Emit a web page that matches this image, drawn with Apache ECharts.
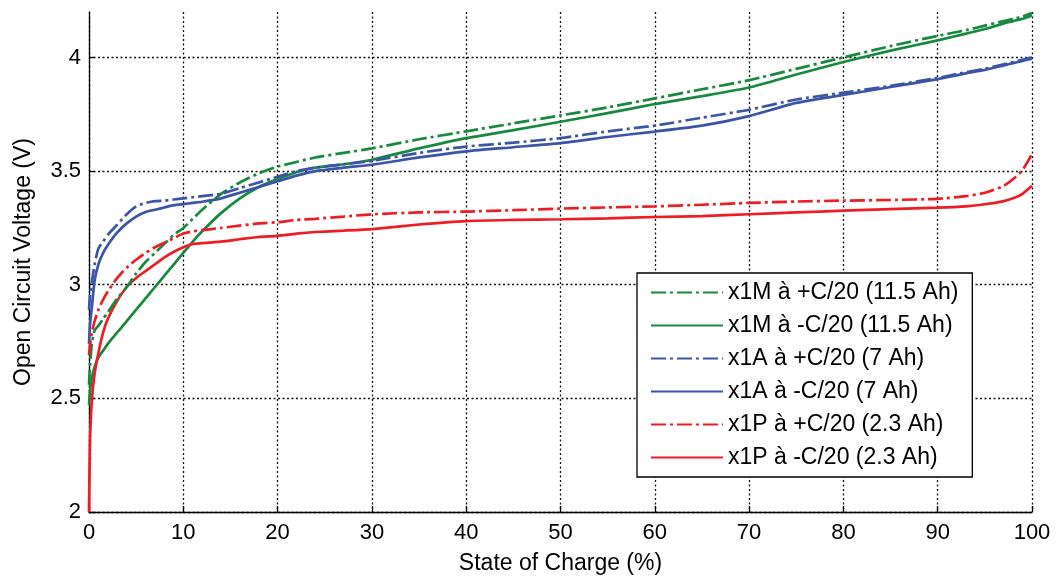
<!DOCTYPE html>
<html>
<head>
<meta charset="utf-8">
<script src="https://cdn.jsdelivr.net/npm/echarts@6/dist/echarts.min.js"></script>
<style>
html,body{margin:0;padding:0;background:#fff;}
#chart{width:1056px;height:580px;}
</style>
</head>
<body>
<div id="chart"></div>
<script>
// State of charge (%) sample points shared by all curves
const soc = [0, 0.1, 0.3, 0.6, 1, 1.5, 2, 3, 4, 5, 6, 7, 8, 9, 10, 11, 12, 14, 16, 18, 20, 22, 24, 27, 30, 35, 40, 45, 50, 55, 60, 65, 70, 75, 80, 85, 90, 93, 95, 97, 98, 99, 100];

// Open circuit voltage (V)
const x1M_charge = [2.56, 2.64, 2.74, 2.80, 2.82, 2.85, 2.88, 2.94, 2.99, 3.05, 3.10, 3.14, 3.18, 3.22, 3.25, 3.29, 3.33, 3.40, 3.45, 3.49, 3.52, 3.54, 3.56, 3.58, 3.60, 3.64, 3.675, 3.71, 3.745, 3.78, 3.82, 3.86, 3.90, 3.95, 4.00, 4.05, 4.095, 4.12, 4.14, 4.16, 4.17, 4.18, 4.195];
const x1M_discharge = [2.47, 2.53, 2.59, 2.64, 2.68, 2.71, 2.74, 2.79, 2.84, 2.89, 2.94, 2.99, 3.04, 3.09, 3.14, 3.19, 3.235, 3.315, 3.38, 3.43, 3.465, 3.495, 3.515, 3.53, 3.55, 3.60, 3.645, 3.68, 3.717, 3.755, 3.795, 3.83, 3.868, 3.925, 3.98, 4.03, 4.075, 4.105, 4.125, 4.15, 4.16, 4.17, 4.185];
const x1A_charge = [2.89, 2.95, 3.01, 3.09, 3.16, 3.19, 3.22, 3.265, 3.31, 3.345, 3.36, 3.368, 3.37, 3.375, 3.38, 3.385, 3.39, 3.40, 3.425, 3.45, 3.475, 3.50, 3.515, 3.53, 3.545, 3.58, 3.608, 3.625, 3.645, 3.675, 3.70, 3.735, 3.77, 3.815, 3.845, 3.875, 3.91, 3.935, 3.95, 3.97, 3.98, 3.99, 4.0];
const x1A_discharge = [2.74, 2.82, 2.90, 3.02, 3.09, 3.14, 3.175, 3.23, 3.27, 3.30, 3.32, 3.33, 3.34, 3.35, 3.355, 3.36, 3.365, 3.38, 3.405, 3.43, 3.455, 3.48, 3.50, 3.515, 3.528, 3.56, 3.587, 3.605, 3.623, 3.65, 3.674, 3.70, 3.742, 3.80, 3.835, 3.87, 3.905, 3.93, 3.945, 3.965, 3.975, 3.985, 3.995];
const x1P_charge = [2.69, 2.73, 2.79, 2.84, 2.89, 2.935, 2.97, 3.03, 3.075, 3.11, 3.14, 3.165, 3.185, 3.205, 3.225, 3.235, 3.24, 3.25, 3.26, 3.27, 3.275, 3.285, 3.29, 3.30, 3.31, 3.318, 3.322, 3.328, 3.335, 3.34, 3.345, 3.352, 3.36, 3.366, 3.37, 3.373, 3.378, 3.39, 3.405, 3.435, 3.465, 3.505, 3.575];
const x1P_discharge = [2.0, 2.3, 2.49, 2.61, 2.70, 2.79, 2.85, 2.93, 2.99, 3.03, 3.06, 3.09, 3.12, 3.145, 3.165, 3.18, 3.183, 3.19, 3.20, 3.21, 3.215, 3.225, 3.232, 3.238, 3.245, 3.265, 3.28, 3.285, 3.288, 3.292, 3.298, 3.302, 3.31, 3.318, 3.326, 3.333, 3.339, 3.345, 3.354, 3.368, 3.38, 3.40, 3.435];

const seriesNames = ['x1M à +C/20 (11.5 Ah)', 'x1M à -C/20 (11.5 Ah)', 'x1A à +C/20 (7 Ah)', 'x1A à -C/20 (7 Ah)', 'x1P à +C/20 (2.3 Ah)', 'x1P à -C/20 (2.3 Ah)'];
const seriesValues = [x1M_charge, x1M_discharge, x1A_charge, x1A_discharge, x1P_charge, x1P_discharge];
const seriesColors = ['#17893f', '#17893f', '#3b55a6', '#3b55a6', '#ee1d25', '#ee1d25'];
const dashed = [true, false, true, false, true, false];

const FONT = "'Liberation Sans', Arial, sans-serif";
const chart = echarts.init(document.getElementById('chart'), null, {renderer: 'canvas'});

const series = seriesNames.map((name, i) => ({
  name: name,
  type: 'line',
  data: soc.map((s, j) => [s, seriesValues[i][j]]),
  symbol: 'none',
  smooth: 0.2,
  clip: true,
  lineStyle: {color: seriesColors[i], width: 2.7, type: dashed[i] ? [15, 4, 3, 4] : 'solid'},
  itemStyle: {color: seriesColors[i]},
  z: dashed[i] ? 3 : 2
}));

chart.setOption({
  animation: false,
  backgroundColor: '#fff',
  grid: {left: 89, right: 24, top: 12, bottom: 65, containLabel: false},
  xAxis: {
    type: 'value', min: 0, max: 100, interval: 10,
    name: 'State of Charge (%)', nameLocation: 'middle', nameGap: 40,
    nameTextStyle: {fontFamily: FONT, fontSize: 23, color: '#000'},
    axisLine: {show: true, lineStyle: {color: '#000', width: 1.3}},
    axisTick: {show: true, inside: true, length: 6, lineStyle: {color: '#000', width: 1.3}},
    axisLabel: {fontFamily: FONT, fontSize: 22, color: '#000', margin: 10},
    splitLine: {show: true, lineStyle: {color: '#111', width: 1.3, type: [2, 2.5]}}
  },
  yAxis: {
    type: 'value', min: 2, max: 4.2, interval: 0.5,
    name: 'Open Circuit Voltage (V)', nameLocation: 'middle', nameGap: 54,
    nameTextStyle: {fontFamily: FONT, fontSize: 23, color: '#000'},
    axisLine: {show: true, lineStyle: {color: '#000', width: 1.3}},
    axisTick: {show: true, inside: true, length: 6, lineStyle: {color: '#000', width: 1.3}},
    axisLabel: {fontFamily: FONT, fontSize: 22, color: '#000', margin: 8, showMaxLabel: false,
      formatter: v => (Math.abs(v * 2 - Math.round(v * 2)) < 1e-6 ? String(v) : '')},
    splitLine: {show: true, showMaxLine: false, lineStyle: {color: '#111', width: 1.3, type: [2, 2.5]}}
  },
  legend: {
    orient: 'vertical', left: 637, top: 273,
    backgroundColor: '#fff', borderColor: '#000', borderWidth: 1.3,
    padding: [8, 14, 8, 13],
    itemWidth: 72, itemHeight: 14, itemGap: 10,
    itemStyle: {opacity: 0},
    textStyle: {fontFamily: FONT, fontSize: 23, color: '#000'},
    data: seriesNames
  },
  series: series
});
</script>
</body>
</html>
